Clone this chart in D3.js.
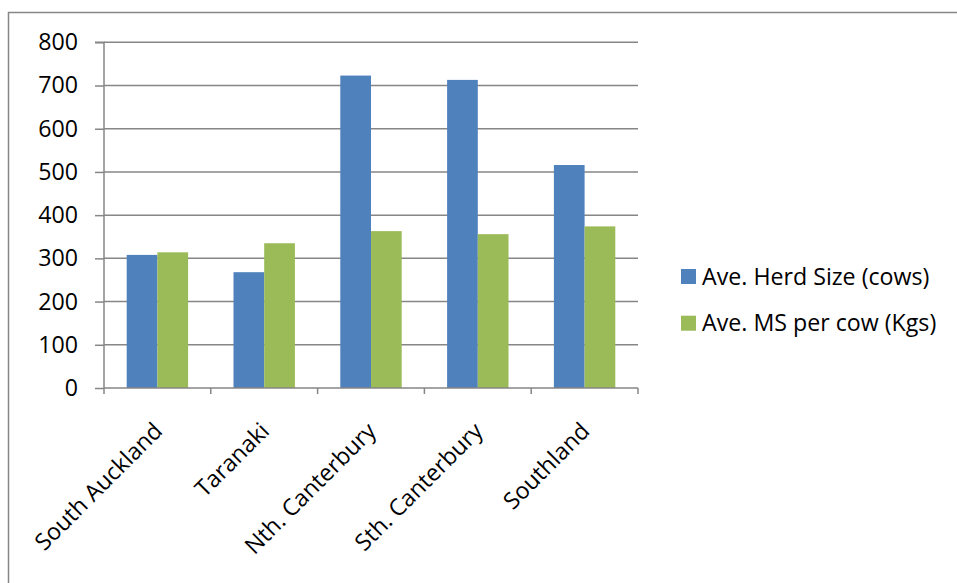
<!DOCTYPE html>
<html><head><meta charset="utf-8">
<script src="https://cdn.jsdelivr.net/npm/d3@7"></script>
<style>body{margin:0;background:#fff}svg{display:block}</style>
</head><body><svg id="c" width="957" height="583"></svg>
<script>
const categories = ["South Auckland","Taranaki","Nth. Canterbury","Sth. Canterbury","Southland"];
const seriesNames = ["Ave. Herd Size (cows)","Ave. MS per cow (Kgs)"];
const herdSize = [308, 268, 723, 713, 516];
const msPerCow = [314, 335, 363, 356, 374];
const yTicks = [0,100,200,300,400,500,600,700,800];
const colors = ["#4f81bd","#9bbb59"];

const svg = d3.select("#c");
const font = "'Open Sans', sans-serif";
const fs = 23.2;
const L = 104, R = 638, T = 42.3, B = 388;

svg.append("rect").attr("x",8.5).attr("y",12.5).attr("width",1000).attr("height",1000)
  .attr("fill","none").attr("stroke","#868686").attr("stroke-width",1.5);

const x = d3.scaleBand().domain(categories).range([L,R]).paddingInner(0.425).paddingOuter(0.2125);
const y = d3.scaleLinear().domain([0,800]).range([B,T]);

// gridlines
svg.append("g").selectAll("line").data(yTicks.filter(d=>d>0)).join("line")
  .attr("x1",L).attr("x2",R).attr("y1",d=>y(d)).attr("y2",d=>y(d))
  .attr("stroke","#868686").attr("stroke-width",1.5);

// bars
const series = [herdSize, msPerCow];
const bw = x.bandwidth()/2;
series.forEach((vals,si)=>{
  svg.append("g").selectAll("rect").data(categories).join("rect")
    .attr("x",c=>x(c)+si*bw).attr("width",bw)
    .attr("y",(c,i)=>y(vals[i])).attr("height",(c,i)=>B-y(vals[i]))
    .attr("fill",colors[si]);
});

// y axis
const yAxis = d3.axisLeft(y).tickValues(yTicks).tickSize(9).tickPadding(17).tickFormat(d3.format("d"));
const gy = svg.append("g").attr("transform",`translate(${L},0)`).call(yAxis);
gy.select(".domain").attr("stroke","#868686").attr("stroke-width",1.5).attr("d",`M-9,${T}H0V${B}`);
gy.selectAll(".tick line").attr("stroke","#868686").attr("stroke-width",1.5);
gy.selectAll(".tick text").attr("font-family",font).attr("font-size",fs).attr("fill","#000");

// x axis
const edges = categories.map(c=>x(c)-x.step()*x.paddingInner()/2);
edges.push(R);
const gx = svg.append("g");
gx.append("line").attr("x1",L).attr("x2",R).attr("y1",B).attr("y2",B).attr("stroke","#868686").attr("stroke-width",1.5);
gx.selectAll("line.t").data(edges).join("line").attr("class","t")
  .attr("x1",d=>d).attr("x2",d=>d).attr("y1",B).attr("y2",B+6).attr("stroke","#868686").attr("stroke-width",1.5);
gx.selectAll("text").data(categories).join("text")
  .attr("transform",c=>`translate(${x(c)+x.bandwidth()/2-5},${B+33}) rotate(-45)`)
  .attr("text-anchor","end").attr("dy","0.7em")
  .attr("font-family",font).attr("font-size",fs).attr("fill","#000")
  .text(c=>c);

// legend
const lg = svg.append("g");
seriesNames.forEach((n,i)=>{
  const yy = 276.5 + i*46.7;
  lg.append("rect").attr("x",681).attr("y",yy-7.5).attr("width",15).attr("height",15).attr("fill",colors[i]);
  lg.append("text").attr("x",702).attr("y",yy).attr("dy","0.35em")
    .attr("font-family",font).attr("font-size",fs).attr("fill","#000").text(n);
});
</script></body></html>
